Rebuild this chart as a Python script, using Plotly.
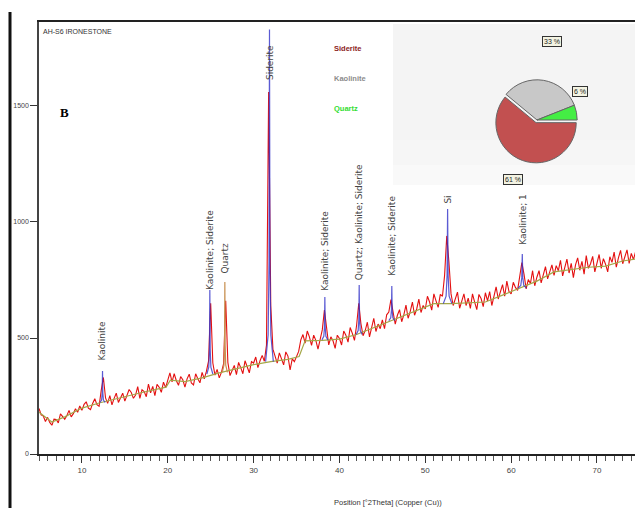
import numpy as np
import plotly.graph_objects as go

# ---------------- data ----------------
# scan positions (°2Theta, step 0.25)
two_theta = np.round(np.arange(5.0, 74.51, 0.25), 2)

counts = (
    [196, 169, 164, 140, 158, 136, 124, 150, 149, 134, 173, 162, 150, 166, 188, 160, 174, 195, 180, 207]
    + [188, 214, 225, 198, 191, 218, 238, 213, 206, 275, 330, 242, 218, 252, 212, 240, 262, 222, 240, 262]
    + [228, 254, 278, 265, 240, 254, 290, 240, 277, 269, 247, 301, 264, 291, 252, 300, 288, 266, 310, 286]
    + [324, 350, 311, 346, 316, 296, 334, 320, 288, 324, 344, 306, 298, 346, 324, 307, 352, 324, 356, 400]
    + [650, 392, 340, 365, 328, 352, 388, 660, 395, 338, 360, 382, 342, 395, 372, 346, 402, 376, 350, 398]
    + [392, 418, 372, 402, 425, 400, 470, 1560, 640, 452, 418, 392, 436, 412, 384, 440, 422, 362, 410, 398]
    + [425, 442, 492, 515, 478, 530, 505, 468, 512, 490, 452, 500, 535, 620, 530, 470, 505, 488, 455, 512]
    + [498, 470, 530, 512, 482, 545, 520, 490, 555, 650, 562, 510, 532, 568, 505, 548, 585, 528, 560, 540]
    + [578, 540, 600, 612, 665, 612, 560, 598, 622, 570, 600, 642, 585, 615, 655, 598, 625, 668, 610, 640]
    + [625, 680, 655, 620, 690, 660, 632, 688, 680, 770, 940, 830, 690, 640, 668, 698, 628, 660, 690, 640]
    + [672, 628, 690, 655, 622, 688, 670, 635, 695, 660, 700, 640, 682, 720, 668, 705, 730, 680, 745, 700]
    + [690, 740, 718, 705, 770, 825, 775, 712, 752, 735, 790, 725, 762, 790, 738, 775, 808, 755, 785, 815]
    + [770, 812, 790, 835, 768, 805, 840, 780, 822, 760, 815, 845, 792, 830, 775, 855, 800, 820, 852, 785]
    + [830, 860, 800, 842, 818, 785, 850, 826, 870, 805, 845, 878, 820, 852, 880, 822, 865, 838, 872]
)
assert len(counts) == len(two_theta)

# background line
baseline_x = [5, 6.5, 8, 10, 12, 15, 17, 19.8, 20.3, 22, 24, 26, 28, 30, 32, 34, 35.3, 36, 38, 40,
              42, 44, 46, 48, 50, 51, 53, 55, 57, 59, 61, 63, 65, 67, 69, 71, 73, 74.5]
baseline_y = [180, 138, 160, 198, 220, 248, 265, 288, 318, 312, 328, 350, 368, 385, 398, 408, 420, 488, 490, 495,
              515, 545, 575, 605, 635, 648, 648, 650, 655, 685, 715, 745, 785, 795, 805, 810, 832, 840]

# identified peaks
peak_pos = [12.4, 24.9, 26.65, 31.85, 38.3, 42.3, 46.1, 52.6, 61.3]
peak_top = [358, 707, 741, 1830, 677, 728, 724, 1056, 862]
peak_base = [222, 345, 352, 398, 492, 515, 575, 648, 715]
peak_labels = ["Kaolinite", "Kaolinite; Siderite", "Quartz", "Siderite", "Kaolinite; Siderite",
               "Quartz; Kaolinite; Siderite", "Kaolinite; Siderite", "Si", "Kaolinite; 1"]

# phase composition (%)
phases = ["Siderite", "Kaolinite", "Quartz"]
phase_pct = [61, 33, 6]

# ---------------- styles / positions ----------------
label_bottom = [392, 698, 771, 1603, 694, 741, 759, 1069, 892]
peak_halfwidth = [0.3, 0.35, 0.3, 0.45, 0.35, 0.35, 0.35, 0.5, 0.5]
peak_colors = ["rgba(50,50,200,0.8)"] * 9
peak_colors[2] = "#c89050"
phase_colors = ["#c25050", "#c8c8c8", "#44ee44"]
legend_colors = ["#8b1c1c", "#8c8c8c", "#33dd33"]
NARROW = "Liberation Sans Narrow, Arial Narrow, Liberation Sans, Arial"

L, T, W, H = 39, 22, 596, 432


def ppx(x):
    return (x - L) / W


def ppy(y):
    return (T + H - y) / H


fig = go.Figure()

fig.add_trace(go.Scatter(x=two_theta, y=counts, mode="lines",
                         line=dict(color="#e41010", width=1.1), hoverinfo="skip"))
fig.add_trace(go.Scatter(x=baseline_x, y=baseline_y, mode="lines",
                         line=dict(color="#a4a848", width=1.2), hoverinfo="skip"))

for pos, top, base, hw, col in zip(peak_pos, peak_top, peak_base, peak_halfwidth, peak_colors):
    h = top - base
    xs = [pos - hw, pos - hw * 0.35, pos - hw * 0.12, pos, pos + hw * 0.12, pos + hw * 0.35, pos + hw]
    ys = [base, base + 0.08 * h, base + 0.3 * h, top, base + 0.3 * h, base + 0.08 * h, base]
    fig.add_trace(go.Scatter(x=xs, y=ys, mode="lines", line=dict(color=col, width=1.2),
                             hoverinfo="skip"))

fig.add_trace(go.Pie(labels=phases, values=phase_pct, sort=False, direction="clockwise",
                     rotation=90, textinfo="none", hoverinfo="skip", pull=[0.07, 0, 0],
                     marker=dict(colors=phase_colors, line=dict(color="#666666", width=1)),
                     domain=dict(x=[ppx(494), ppx(580)], y=[ppy(166), ppy(74)]),
                     showlegend=False))

shapes = []
for (y0, y1, col) in [(185, 24, "#f9f9f9"), (165, 24, "#f6f6f6"), (140, 24, "#f4f4f4")]:
    shapes.append(dict(type="rect", xref="paper", yref="paper", x0=ppx(393), x1=1,
                       y0=ppy(y0), y1=ppy(y1), fillcolor=col, line=dict(width=0), layer="below"))
shapes.append(dict(type="line", xref="paper", yref="paper", x0=ppx(10), x1=ppx(10),
                   y0=ppy(508), y1=ppy(12), line=dict(color="#111111", width=3)))

annotations = [
    dict(text="AH-S6 IRONESTONE", x=ppx(41), y=ppy(31), xanchor="left", yanchor="middle",
         font=dict(family=NARROW, size=7, color="#333333")),
    dict(text="<b>B</b>", x=ppx(64), y=ppy(112), xanchor="center", yanchor="middle",
         font=dict(family="Liberation Serif, Times New Roman, serif", size=13, color="#000000")),
    dict(text="Position [°2Theta] (Copper (Cu))", x=ppx(332), y=ppy(502), xanchor="left",
         yanchor="middle", font=dict(family=NARROW, size=7.5, color="#333333")),
]
for name, col, yy in zip(phases, legend_colors, [48, 78, 108]):
    annotations.append(dict(text="<b>" + name + "</b>", x=ppx(332), y=ppy(yy), xanchor="left",
                            yanchor="middle", font=dict(family=NARROW, size=7.5, color=col)))
for pct, (bx, by) in zip(phase_pct, [(513, 180), (552, 42), (580, 91)]):
    annotations.append(dict(text=f"{pct} %", x=ppx(bx), y=ppy(by), xanchor="center",
                            yanchor="middle", bgcolor="#f3f3e2", bordercolor="#333333",
                            borderwidth=1, borderpad=1,
                            font=dict(family=NARROW, size=7, color="#222222")))
for pos, lb, txt in zip(peak_pos, label_bottom, peak_labels):
    annotations.append(dict(text=txt, x=pos, y=lb, xref="x", yref="y", textangle=-90,
                            xanchor="center", yanchor="bottom",
                            font=dict(family="DejaVu Sans", size=9, color="#444444")))
for a in annotations:
    a.setdefault("xref", "paper")
    a.setdefault("yref", "paper")
    a["showarrow"] = False

fig.update_layout(
    width=635, height=508,
    margin=dict(l=L, r=635 - L - W, t=T, b=508 - T - H, pad=0),
    paper_bgcolor="white", plot_bgcolor="white",
    showlegend=False,
    shapes=shapes, annotations=annotations,
    xaxis=dict(range=[5, 74.43], showgrid=False, zeroline=False, showline=True,
               linecolor="#222222", linewidth=2, mirror=True, ticks="outside", ticklen=7,
               tickcolor="#333333", tick0=0, dtick=10,
               tickfont=dict(family=NARROW, size=8, color="#444444"),
               minor=dict(dtick=1, ticks="outside", ticklen=5, tickcolor="#555555", showgrid=False)),
    yaxis=dict(range=[0, 1862], showgrid=False, zeroline=False, showline=True,
               linecolor="#444444", linewidth=1.5, ticks="outside", ticklen=7,
               tickcolor="#333333", tickvals=[0, 500, 1000, 1500],
               tickfont=dict(family=NARROW, size=7, color="#444444")),
)

fig.write_html("out.html")
